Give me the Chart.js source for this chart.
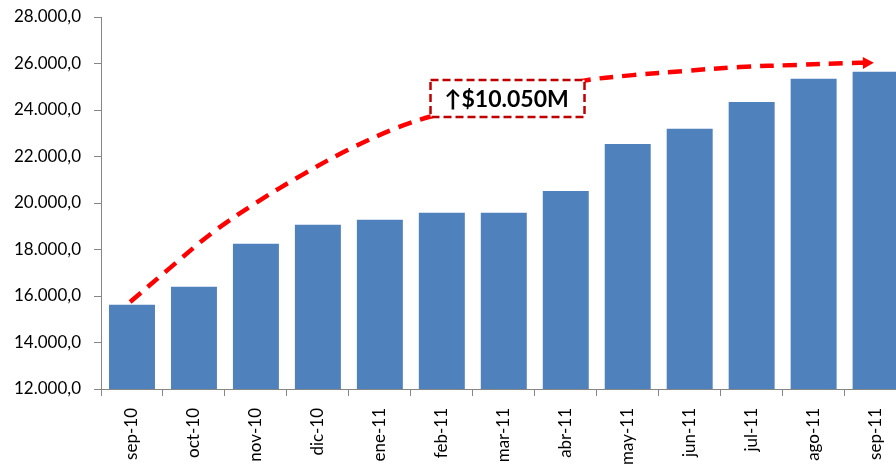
<!doctype html>
<html>

<head>
	<title>Ventas acumuladas sep-10 a sep-11</title>
	<style>
		html, body {
			margin: 0;
			padding: 0;
			overflow: hidden;
			background: #fff;
		}

		#wrap {
			width: 908px;
			height: 468px;
		}
	</style>
	<script src="https://cdn.jsdelivr.net/npm/chart.js@4.4.0/dist/chart.umd.min.js"></script>
</head>

<body>
	<div id="wrap"><canvas id="ventas" width="908" height="468"></canvas></div>
	<script>
		"use strict";
		const months = ["sep-10", "oct-10", "nov-10", "dic-10", "ene-11", "feb-11", "mar-11",
			"abr-11", "may-11", "jun-11", "jul-11", "ago-11", "sep-11"];
		const values = [15620, 16400, 18250, 19060, 19280, 19580, 19580,
			20520, 22540, 23190, 24340, 25340, 25650];

		// hand-drawn trend arrow, x given as category position
		const trend_x = [-0.03, 0.61, 1.31, 2.02, 2.74, 3.48, 4.27, 4.85, 6.06, 7.27, 8.08, 8.92, 9.81, 10.73, 11.53, 11.94];
		const trend_y = [15740, 17200, 18750, 20040, 21200, 22280, 23230, 23740, 24520, 25250, 25500, 25680, 25850, 25940, 26020, 26030];

		const note_text = "\u2191$10.050M";
		const note_pos = { x: 6.06, y: 24500 };

		const fmt = n => String(n).replace(/\B(?=(\d{3})+(?!\d))/g, ".") + ",0";
		const axis_gray = "#868686";

		const extras = {
			id: "extras",
			afterDatasetsDraw(chart) {
				const ctx = chart.ctx;
				const xs = chart.scales.x2, ys = chart.scales.y;

				// arrow head at the end of the trend line
				const pts = chart.getDatasetMeta(1).data;
				const a = pts[pts.length - 2], b = pts[pts.length - 1];
				const ang = Math.atan2(b.y - a.y, b.x - a.x);
				ctx.save();
				ctx.translate(b.x, b.y);
				ctx.rotate(ang);
				ctx.fillStyle = "#FF0000";
				ctx.beginPath();
				ctx.moveTo(2, 0);
				ctx.lineTo(-9, -6);
				ctx.lineTo(-9, 6);
				ctx.closePath();
				ctx.fill();
				ctx.restore();

				// label box
				const cx = xs.getPixelForValue(note_pos.x);
				const cy = ys.getPixelForValue(note_pos.y);
				const w = 154, h = 37;
				ctx.save();
				ctx.fillStyle = "#fff";
				ctx.fillRect(cx - w / 2, cy - h / 2, w, h);
				ctx.setLineDash([8, 4]);
				ctx.lineWidth = 2.5;
				ctx.strokeStyle = "#C00000";
				ctx.strokeRect(cx - w / 2, cy - h / 2, w, h);
				ctx.fillStyle = "#000";
				ctx.font = "bold 23px Lato, 'DejaVu Sans', sans-serif";
				ctx.textAlign = "center";
				ctx.textBaseline = "middle";
				ctx.fillText(note_text, cx - 1, cy + 1);
				ctx.restore();
			}
		};

		const trend = trend_x.map((x, i) => ({ x: x, y: trend_y[i] }));

		new Chart(document.getElementById("ventas"), {
			type: "bar",
			data: {
				labels: months,
				datasets: [{
					label: "Ventas",
					data: values,
					backgroundColor: "#4F81BD",
					categoryPercentage: 1,
					barPercentage: 0.742,
					grouped: false,
					order: 2
				}, {
					type: "line",
					label: "Tendencia",
					data: trend,
					xAxisID: "x2",
					borderColor: "#FF0000",
					borderWidth: 4.5,
					borderDash: [14, 9],
					borderCapStyle: "butt",
					pointRadius: 0,
					tension: 0.35,
					fill: false,
					order: 1
				}]
			},
			options: {
				responsive: false,
				animation: false,
				layout: {
					padding: { top: 17, left: 0, right: 0, bottom: 0 }
				},
				plugins: {
					legend: { display: false },
					tooltip: { enabled: false }
				},
				scales: {
					x: {
						offset: true,
						border: { color: axis_gray, width: 1 },
						grid: {
							drawOnChartArea: false,
							drawTicks: true,
							tickLength: 7,
							color: axis_gray,
							offset: true
						},
						ticks: {
							color: "#000",
							font: { family: "Lato", size: 17 },
							minRotation: 90,
							maxRotation: 90,
							autoSkip: false,
							padding: 12
						},
						afterFit: s => { s.height = 79; }
					},
					x2: {
						type: "linear",
						display: false,
						offset: false,
						grid: { offset: false },
						min: -0.5,
						max: 12.5
					},
					y: {
						min: 12000,
						max: 28000,
						border: { color: axis_gray, width: 1 },
						grid: {
							drawOnChartArea: false,
							tickLength: 7,
							color: axis_gray
						},
						ticks: {
							stepSize: 2000,
							color: "#000",
							font: { family: "Lato", size: 17 },
							padding: 13,
							callback: v => fmt(v)
						},
						afterFit: s => {
							s.width = 101;
							s.paddingTop = 0;
							s.paddingBottom = 0;
						}
					}
				}
			},
			plugins: [extras]
		});
	</script>
</body>

</html>
